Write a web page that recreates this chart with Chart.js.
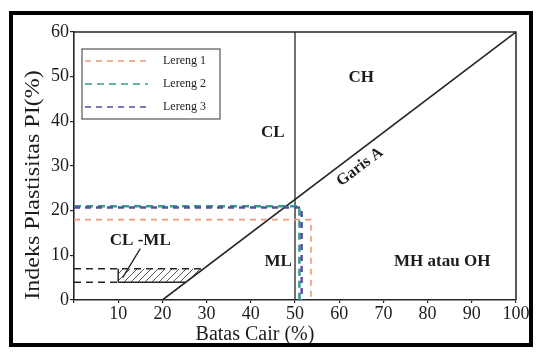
<!DOCTYPE html>
<html><head><meta charset="utf-8">
<script src="https://cdn.jsdelivr.net/npm/chart.js@4/dist/chart.umd.min.js"></script>
<style>
html,body{margin:0;padding:0;background:#fff;}
#wrap{position:relative;width:536px;height:352px;overflow:hidden;}
#frame{position:absolute;left:9px;top:11px;width:516px;height:328px;border:4px solid #000;pointer-events:none;}
canvas{position:absolute;left:0;top:0;}
</style></head><body>
<div id="wrap"><canvas id="c" width="536" height="352"></canvas><div id="frame"></div></div>
<script>
// ---- data ----
const xTickValues = [0,10,20,30,40,50,60,70,80,90,100];
const yTickValues = [0,10,20,30,40,50,60];
const xTitle = 'Batas Cair (%)';
const yTitle = 'Indeks Plastisitas PI(%)';

const aLineLL = [20, 100];          const aLinePI = [0, 60];
const dividerLL = [50, 50];         const dividerPI = [0, 60];
const clmlTopLL = [0, 29.3];        const clmlTopPI = [7, 7];
const clmlBotDashLL = [0, 10];      const clmlBotDashPI = [4, 4];
const clmlBotLL = [10, 25.3];       const clmlBotPI = [4, 4];
const clmlEdgeLL = [10, 10];        const clmlEdgePI = [4, 7];
const clmlZoneLL = [10, 10, 29.3, 25.3]; const clmlZonePI = [4, 7, 7, 4];
const pointerLL = [15, 11];         const pointerPI = [11.5, 5];

const slopeNames = ['Lereng 1', 'Lereng 2', 'Lereng 3'];
const lereng1LL = [0, 53.6, 53.6];  const lereng1PI = [18, 18, 0];
const lereng2LL = [0, 51, 51];      const lereng2PI = [21, 21, 0];
const lereng3LL = [0, 51.5, 51.5];  const lereng3PI = [20.7, 20.7, 0];

const zoneNames = ['CL', 'CH', 'ML', 'MH atau OH', 'Garis A', 'CL -ML'];
const zoneLL    = [45, 65, 46.2, 83.3, 64.7, 15];
const zonePI    = [37.4, 49.7, 8.5, 8.5, 29.8, 13.2];

// ---- helpers ----
const pts = (xs, ys) => xs.map((v, i) => ({x: v, y: ys[i]}));
const SERIF = '"Liberation Serif", "DejaVu Serif", serif';
const INK = '#262626';

const pc = document.createElement('canvas'); pc.width = 7; pc.height = 7;
const pctx = pc.getContext('2d');
pctx.strokeStyle = '#555'; pctx.lineWidth = 1;
pctx.beginPath(); pctx.moveTo(0, 7); pctx.lineTo(7, 0); pctx.stroke();
const hatch = pctx.createPattern(pc, 'repeat');

const slopeColors = ['#ee9878', '#34a08a', '#5a4aa0'];
const slopeWidths = [1.6, 2.6, 2.4];
const slopeDash = [[6,5],[7,5],[6,5]];

function plain(data, opts) {
  return Object.assign({data, showLine: true, pointRadius: 0, borderColor: INK,
    borderWidth: 1.5, fill: false, tension: 0}, opts);
}

const datasets = [
  plain(pts(aLineLL, aLinePI), {order: 5, borderWidth: 1.6}),
  plain(pts(dividerLL, dividerPI), {order: 5, borderWidth: 1.3}),
  plain(pts(clmlZoneLL, clmlZonePI), {order: 6, borderWidth: 0, fill: 'shape', backgroundColor: hatch}),
  plain(pts(clmlTopLL, clmlTopPI), {order: 5, borderDash: [7,5]}),
  plain(pts(clmlBotDashLL, clmlBotDashPI), {order: 5, borderDash: [7,5]}),
  plain(pts(clmlBotLL, clmlBotPI), {order: 5}),
  plain(pts(clmlEdgeLL, clmlEdgePI), {order: 5}),
  plain(pts(pointerLL, pointerPI), {order: 5, borderWidth: 1.3}),
  plain(pts(lereng1LL, lereng1PI), {label: slopeNames[0], isSlope: true, order: 3, borderColor: slopeColors[0], borderWidth: slopeWidths[0], borderDash: slopeDash[0]}),
  plain(pts(lereng2LL, lereng2PI), {label: slopeNames[1], isSlope: true, order: 2, borderColor: slopeColors[1], borderWidth: slopeWidths[1], borderDash: slopeDash[1]}),
  plain(pts(lereng3LL, lereng3PI), {label: slopeNames[2], isSlope: true, order: 1, borderColor: slopeColors[2], borderWidth: slopeWidths[2], borderDash: slopeDash[2]}),
];

const annot = {
  id: 'annot',
  afterDatasetsDraw(chart) {
    const {ctx, chartArea: a, scales: {x, y}} = chart;
    ctx.save();
    // plot box (top & right)
    ctx.strokeStyle = INK; ctx.lineWidth = 1.5; ctx.setLineDash([]);
    ctx.beginPath(); ctx.moveTo(a.left, a.top); ctx.lineTo(a.right, a.top); ctx.lineTo(a.right, a.bottom); ctx.stroke();
    // zone labels
    ctx.fillStyle = '#1c1c1c'; ctx.textAlign = 'center'; ctx.textBaseline = 'middle';
    zoneNames.forEach((t, i) => {
      const px = x.getPixelForValue(zoneLL[i]), py = y.getPixelForValue(zonePI[i]);
      ctx.save(); ctx.translate(px, py);
      if (t === 'Garis A') { ctx.rotate(-Math.atan2(y.getPixelForValue(0) - y.getPixelForValue(60), x.getPixelForValue(100) - x.getPixelForValue(20))); ctx.font = 'bold 16px ' + SERIF; }
      else ctx.font = 'bold 17px ' + SERIF;
      ctx.fillText(t, 0, 0); ctx.restore();
    });
    // legend
    const L = {x: 82, y: 49, w: 138, h: 70};
    ctx.fillStyle = '#fff'; ctx.fillRect(L.x, L.y, L.w, L.h);
    ctx.strokeStyle = '#555'; ctx.lineWidth = 1.2; ctx.strokeRect(L.x, L.y, L.w, L.h);
    ctx.textAlign = 'left'; ctx.font = '12px ' + SERIF; ctx.fillStyle = '#222';
    chart.data.datasets.filter(d => d.isSlope).forEach((d, i) => {
      const ry = 61 + i * 23;
      ctx.strokeStyle = d.borderColor; ctx.lineWidth = 1.6; ctx.setLineDash(d.borderDash);
      ctx.beginPath(); ctx.moveTo(L.x + 3, ry); ctx.lineTo(L.x + 66, ry); ctx.stroke();
      ctx.setLineDash([]);
      ctx.fillText(d.label, L.x + 81, ry);
    });
    // axis titles
    ctx.fillStyle = '#1c1c1c'; ctx.textAlign = 'center';
    ctx.font = '20px ' + SERIF;
    ctx.fillText(xTitle, 255, 335);
    ctx.save(); ctx.translate(34, 185); ctx.rotate(-Math.PI / 2); ctx.scale(1.2, 1);
    ctx.fillText(yTitle, 0, 0); ctx.restore();
    ctx.restore();
  }
};

new Chart(document.getElementById('c'), {
  type: 'scatter',
  data: {datasets},
  options: {
    responsive: false, animation: false, events: [],
    layout: {padding: {left: 0, top: 32, right: 20, bottom: 0}},
    plugins: {legend: {display: false}, tooltip: {enabled: false}},
    scales: {
      x: {
        type: 'linear', min: 0, max: 100,
        afterFit: s => { s.height = 52; },
        afterBuildTicks: s => { s.ticks = xTickValues.map(v => ({value: v})); },
        ticks: {color: '#1c1c1c', font: {family: SERIF, size: 18}, padding: 0,
          callback: v => v === 0 ? '' : String(v), maxRotation: 0, autoSkip: false},
        grid: {drawOnChartArea: false, drawTicks: true, tickLength: 3, color: INK, lineWidth: 1.2},
        border: {color: INK, width: 1.6}
      },
      y: {
        type: 'linear', min: 0, max: 60,
        afterFit: s => { s.width = 74; },
        afterBuildTicks: s => { s.ticks = yTickValues.map(v => ({value: v})); },
        ticks: {color: '#1c1c1c', font: {family: SERIF, size: 18}, padding: 1, autoSkip: false},
        grid: {drawOnChartArea: false, drawTicks: true, tickLength: 4, color: INK, lineWidth: 1.2},
        border: {color: INK, width: 1.6}
      }
    }
  },
  plugins: [annot]
});
</script>
</body></html>
